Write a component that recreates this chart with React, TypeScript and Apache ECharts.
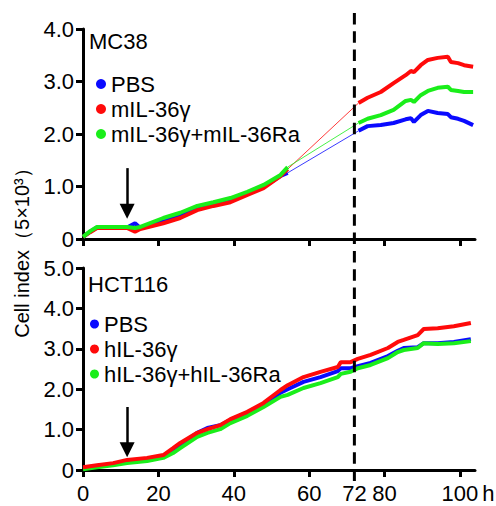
import React, { useEffect, useRef } from 'react';
import * as echarts from 'echarts';

// ---- axes ----
const xTicks = [0, 20, 40, 60, 80, 100];
const xTickLabels = [0, 20, 40, 60, 72, 80, 100];
const xMax = 104;
const topYMax = 4;
const bottomYMax = 5;
const dashedHour = 72;

// ---- MC38 (top) ----
const hoursTopEarly = [0, 1.9, 3.7, 8.0, 11.7, 13.8, 15.2, 21.3, 25.8, 30.3, 34.6, 39.1, 43.6, 47.9, 52.4, 54.3];
const pbsTopEarly = [0.04, 0.14, 0.22, 0.22, 0.22, 0.3, 0.21, 0.35, 0.46, 0.59, 0.66, 0.74, 0.87, 1.0, 1.2, 1.26];
const mIL36TopEarly = [0.04, 0.13, 0.21, 0.21, 0.21, 0.14, 0.19, 0.3, 0.4, 0.55, 0.63, 0.7, 0.84, 0.97, 1.2, 1.33];
const mComboTopEarly = [0.04, 0.15, 0.23, 0.23, 0.23, 0.21, 0.23, 0.4, 0.5, 0.63, 0.7, 0.78, 0.9, 1.03, 1.22, 1.37];

const hoursTopLate = [73.1, 75.5, 79.0, 82.4, 85.6, 87.0, 87.8, 89.6, 91.5, 94.1, 96.8, 97.6, 99.5, 101.1, 103.5];
const pbsTopLate = [2.06, 2.15, 2.17, 2.21, 2.28, 2.3, 2.23, 2.36, 2.44, 2.4, 2.38, 2.32, 2.29, 2.25, 2.17];
const mIL36TopLate = [2.59, 2.69, 2.8, 2.97, 3.12, 3.2, 3.18, 3.31, 3.41, 3.45, 3.47, 3.37, 3.35, 3.31, 3.28];
const mComboTopLate = [2.21, 2.29, 2.36, 2.46, 2.63, 2.65, 2.61, 2.74, 2.82, 2.88, 2.9, 2.84, 2.82, 2.8, 2.8];

// ---- HCT116 (bottom) ----
const hoursBottom = [0, 3.7, 8.0, 11.7, 17.0, 21.3, 23.9, 25.8, 30.3, 33.0, 36.4, 39.1, 43.6, 47.9, 52.4, 54.3, 58.5, 63.0, 67.6, 68.4, 71.0, 72.9, 76.3, 80.9, 83.5, 85.1, 88.8, 90.4, 94.1, 98.4, 102.9];
const pbsBottom = [0.05, 0.1, 0.15, 0.22, 0.28, 0.35, 0.5, 0.63, 0.92, 1.04, 1.11, 1.24, 1.42, 1.62, 1.91, 2.0, 2.18, 2.3, 2.45, 2.52, 2.52, 2.57, 2.65, 2.82, 2.95, 3.02, 3.04, 3.14, 3.14, 3.17, 3.24];
const hIL36Bottom = [0.07, 0.12, 0.17, 0.25, 0.3, 0.37, 0.54, 0.67, 0.92, 1.01, 1.11, 1.26, 1.44, 1.66, 1.98, 2.1, 2.3, 2.43, 2.55, 2.67, 2.67, 2.75, 2.85, 3.02, 3.17, 3.22, 3.34, 3.49, 3.51, 3.56, 3.64];
const hComboBottom = [0.02, 0.07, 0.12, 0.17, 0.22, 0.3, 0.42, 0.54, 0.82, 0.92, 1.01, 1.16, 1.34, 1.56, 1.81, 1.86, 2.03, 2.15, 2.3, 2.38, 2.43, 2.52, 2.6, 2.77, 2.92, 2.97, 3.02, 3.14, 3.12, 3.14, 3.19];

// ---- arrows (treatment time) ----
const arrowHour = 11.7;
const arrowTop = [1.35, 0.53];
const arrowBottom = [1.56, 0.5];

const namesTop = ['PBS', 'mIL-36γ', 'mIL-36γ+mIL-36Ra'];
const namesBottom = ['PBS', 'hIL-36γ', 'hIL-36γ+hIL-36Ra'];

const BLUE = '#0a0aff';
const RED = '#ff0a0a';
const GREEN = '#1aee1a';
const FONT = 'Liberation Sans, Arial, Helvetica, sans-serif';

const zip = (xs: number[], ys: number[]) => xs.map((x, i) => [x, ys[i]]);

export default function App() {
  const ref = useRef<HTMLDivElement>(null);
  useEffect(() => {
    if (!ref.current) return;
    const chart = echarts.init(ref.current, undefined, { renderer: 'svg' });

    const mainLine = (name: string, color: string, grid: number, data: any[], z: number, extra: any = {}) => ({
      type: 'line',
      name,
      xAxisIndex: grid,
      yAxisIndex: grid,
      data,
      symbol: 'none',
      showSymbol: false,
      connectNulls: false,
      lineStyle: { width: 4, color },
      itemStyle: { color },
      z,
      ...extra,
    });
    const bridge = (color: string, early: number[], late: number[], z: number) => ({
      type: 'line',
      name: '_bridge',
      xAxisIndex: 0,
      yAxisIndex: 0,
      data: [
        [hoursTopEarly[hoursTopEarly.length - 1], early[early.length - 1]],
        [hoursTopLate[0], late[0]],
      ],
      symbol: 'none',
      lineStyle: { width: 1, color, opacity: 0.8 },
      itemStyle: { color },
      z,
    });
    const withGap = (early: number[], late: number[]) => [
      ...zip(hoursTopEarly, early),
      [64, null],
      ...zip(hoursTopLate, late),
    ];
    const arrowMark = (range: number[]) => ({
      silent: true,
      symbol: ['none', 'triangle'],
      symbolSize: [15, 15],
      lineStyle: { color: '#000', width: 2.5, type: 'solid' },
      label: { show: false },
      emphasis: { disabled: true },
      data: [[{ coord: [arrowHour, range[0]] }, { coord: [arrowHour, range[1]] }]],
    });

    const axisLineStyle = { show: true, lineStyle: { color: '#000', width: 3 } };
    const tickStyle = { show: true, length: 7, lineStyle: { color: '#000', width: 3 } };
    const labelStyle = { color: '#000', fontSize: 22, fontFamily: FONT };
    const yFmt = (v: number) => (v === 0 ? '0' : v.toFixed(1));

    const option: any = {
      animation: false,
      grid: [
        { left: 83, right: 21, top: 29, height: 210 },
        { left: 83, right: 21, top: 268, height: 202 },
      ],
      xAxis: [
        {
          type: 'value', gridIndex: 0, min: 0, max: xMax,
          axisLine: axisLineStyle,
          axisTick: { ...tickStyle, customValues: xTicks },
          axisLabel: { show: false },
          splitLine: { show: false },
        },
        {
          type: 'value', gridIndex: 1, min: 0, max: xMax,
          axisLine: axisLineStyle,
          axisTick: { ...tickStyle, customValues: xTicks },
          axisLabel: { ...labelStyle, margin: 12, customValues: xTickLabels },
          splitLine: { show: false },
          name: 'h', nameLocation: 'end', nameGap: 5,
          nameTextStyle: { ...labelStyle, verticalAlign: 'top', padding: [12, 0, 0, 0] },
        },
      ],
      yAxis: [
        {
          type: 'value', gridIndex: 0, min: 0, max: topYMax, interval: 1,
          axisLine: axisLineStyle, axisTick: tickStyle,
          axisLabel: { ...labelStyle, margin: 9, formatter: yFmt },
          splitLine: { show: false },
        },
        {
          type: 'value', gridIndex: 1, min: 0, max: bottomYMax, interval: 1,
          axisLine: axisLineStyle, axisTick: tickStyle,
          axisLabel: { ...labelStyle, margin: 9, formatter: yFmt },
          splitLine: { show: false },
        },
      ],
      legend: [
        {
          data: namesTop, orient: 'vertical', left: 96, top: 73, padding: 0, itemGap: 3,
          icon: 'circle', itemWidth: 10, itemHeight: 10, selectedMode: false,
          textStyle: { ...labelStyle },
        },
        {
          data: namesBottom, orient: 'vertical', left: 90, top: 313, padding: 0, itemGap: 3,
          icon: 'circle', itemWidth: 9, itemHeight: 9, selectedMode: false,
          textStyle: { ...labelStyle },
        },
      ],
      series: [
        bridge(BLUE, pbsTopEarly, pbsTopLate, 1),
        bridge(RED, mIL36TopEarly, mIL36TopLate, 1),
        bridge(GREEN, mComboTopEarly, mComboTopLate, 1),
        mainLine(namesTop[0], BLUE, 0, withGap(pbsTopEarly, pbsTopLate), 2),
        mainLine(namesTop[1], RED, 0, withGap(mIL36TopEarly, mIL36TopLate), 3),
        mainLine(namesTop[2], GREEN, 0, withGap(mComboTopEarly, mComboTopLate), 4, { markLine: arrowMark(arrowTop) }),
        mainLine(namesBottom[0], BLUE, 1, zip(hoursBottom, pbsBottom), 2),
        mainLine(namesBottom[2], GREEN, 1, zip(hoursBottom, hComboBottom), 3),
        mainLine(namesBottom[1], RED, 1, zip(hoursBottom, hIL36Bottom), 4, { markLine: arrowMark(arrowBottom) }),
      ],
    };
    chart.setOption(option);

    const x72 = chart.convertToPixel({ xAxisIndex: 1 }, dashedHour) as number;
    chart.setOption({
      graphic: [
        {
          type: 'line', z: 100, silent: true,
          shape: { x1: x72, y1: 13, x2: x72, y2: 481 },
          style: { stroke: '#000', lineWidth: 3, lineDash: [11.5, 6.8] },
        },
        {
          type: 'text', x: 89, y: 41, silent: true,
          style: { text: 'MC38', fontSize: 22, fontFamily: FONT, fill: '#000', align: 'left', verticalAlign: 'middle' },
        },
        {
          type: 'text', x: 88, y: 284, silent: true,
          style: { text: 'HCT116', fontSize: 22, fontFamily: FONT, fill: '#000', align: 'left', verticalAlign: 'middle' },
        },
        {
          type: 'text', x: 22, y: 248, rotation: Math.PI / 2, silent: true,
          style: { text: 'Cell index（5×10³）', fontSize: 20, fontFamily: FONT, fill: '#000', align: 'center', verticalAlign: 'middle' },
        },
      ],
    });

    return () => chart.dispose();
  }, []);

  return (
    <div
      ref={ref}
      style={{ position: 'fixed', left: 0, top: 0, width: 496, height: 506, background: '#fff' }}
    />
  );
}
